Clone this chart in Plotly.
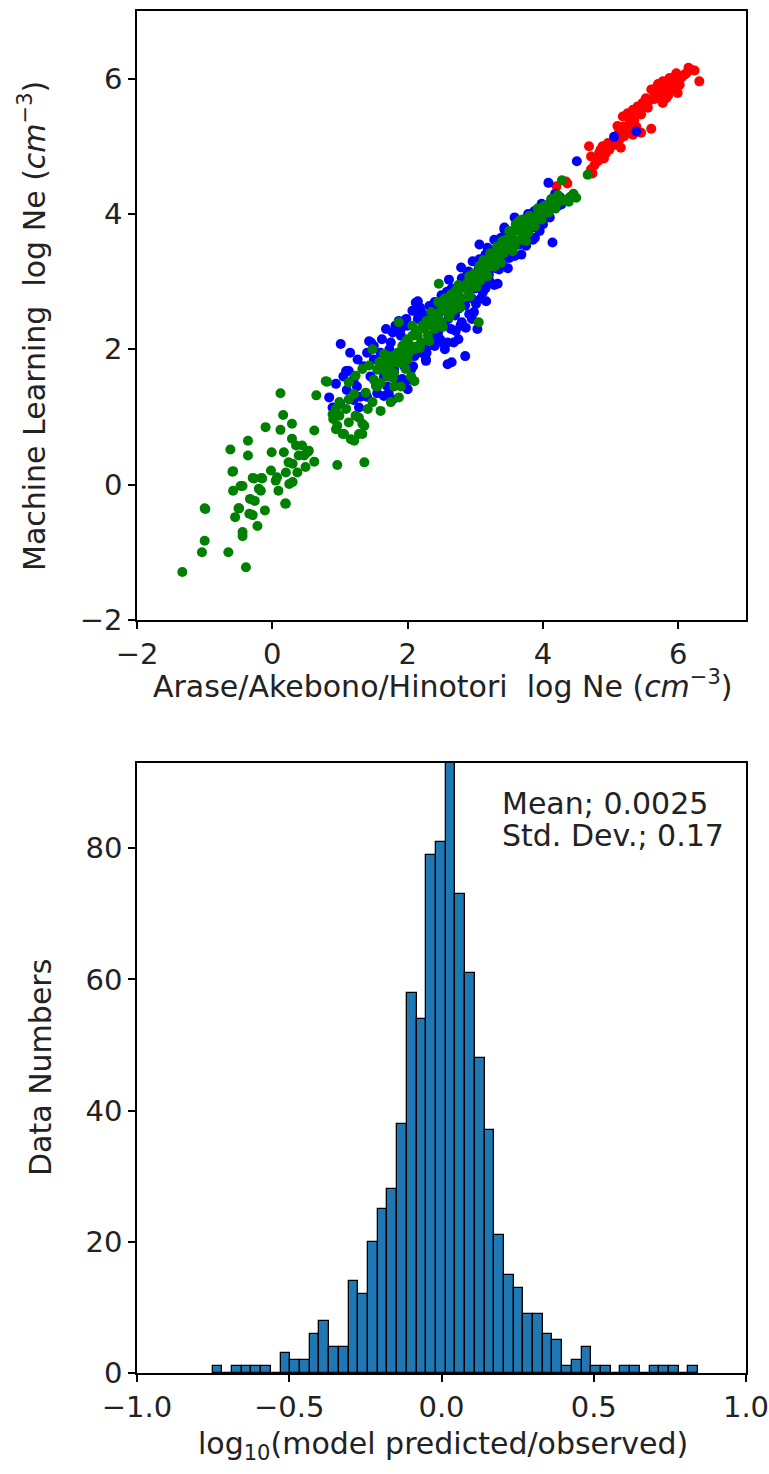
import numpy as np
import plotly.graph_objects as go

# ---------------- scatter data (log Ne, cm^-3) ----------------
red_x = [4.20, 4.34, 4.36, 4.71, 4.71, 4.68, 4.81, 4.83, 4.88, 4.93, 4.96, 4.98, 5.13, 5.15, 5.18, 5.20,
         5.23, 5.33, 5.28, 5.35, 5.38, 5.18, 5.25, 5.33, 5.45, 5.40, 5.47, 5.55, 5.52, 5.45, 5.60, 5.72,
         5.60, 5.67, 5.77, 5.87, 5.97, 6.09, 6.19, 6.31, 6.02, 5.92, 5.99, 5.82, 5.77, 5.82, 5.64, 5.70,
         5.80, 5.90, 6.05, 6.12, 5.95, 5.75, 5.85, 5.30, 5.42, 5.50, 5.58, 5.27, 5.12, 5.05, 4.90, 4.76,
         4.73, 6.24, 6.15, 5.10, 4.85, 5.65, 5.95, 6.00]
red_y = [4.41, 4.48, 4.45, 4.66, 4.85, 5.00, 4.78, 4.90, 5.00, 4.90, 5.05, 4.95, 5.10, 4.98, 5.29, 5.15,
         5.22, 5.17, 5.35, 5.39, 5.29, 5.44, 5.49, 5.54, 5.47, 5.59, 5.64, 5.57, 5.71, 5.20, 5.26, 5.74,
         5.84, 5.86, 5.96, 6.01, 6.08, 6.06, 6.13, 5.96, 5.91, 5.84, 5.79, 5.79, 5.64, 5.71, 5.80, 5.92,
         5.88, 5.95, 6.02, 6.08, 6.03, 5.85, 5.75, 5.45, 5.52, 5.62, 5.68, 5.28, 5.20, 5.02, 4.82, 4.72,
         4.60, 6.12, 6.16, 5.30, 4.95, 5.70, 5.90, 5.97]

blue_x = [0.84, 0.89, 0.94, 1.01, 1.09, 1.13, 1.26, 1.28, 1.43, 1.46, 1.53, 1.65, 1.78, 1.78, 1.92, 2.00,
          2.12, 2.10, 2.27, 2.51, 2.59, 1.68, 1.87, 2.07, 2.15, 2.32, 2.61, 2.79, 2.96, 3.06, 3.28, 3.43,
          3.43, 3.87, 4.12, 4.27, 4.00, 3.85, 3.75, 3.58, 3.35, 3.21, 3.11, 3.16, 3.01, 2.91, 2.64, 2.59,
          2.37, 2.27, 1.73, 4.14, 3.06, 3.33, 2.86, 3.03, 2.85, 2.65, 2.71, 4.08, 4.50, 5.05, 5.38,
          1.00, 1.10, 1.20, 1.30, 1.35, 1.45, 1.50, 1.55, 1.60, 1.65, 1.70, 1.75, 1.80, 1.85, 1.90, 1.95,
          2.00, 2.05, 2.10, 2.15, 2.20, 2.25, 2.30, 2.35, 2.40, 2.45, 2.50, 2.55, 2.60, 2.65, 2.70, 2.75,
          2.80, 2.85, 2.90, 2.95, 3.00, 3.05, 3.10, 3.15, 3.20, 3.25, 3.30, 3.35, 3.40, 3.45, 3.50, 3.55,
          3.60, 3.65, 3.70, 3.75, 3.80, 3.85, 3.90, 3.95, 4.05, 4.10, 4.20, 4.25, 4.35,
          1.20, 1.40, 1.90, 2.20, 2.45, 2.55, 2.75, 2.95, 3.15, 1.95, 2.05, 2.40, 2.80, 3.50, 3.95,
          1.05, 1.15, 1.25, 1.40, 1.50, 1.62, 1.72, 1.82, 1.98, 2.08, 2.18, 2.28, 2.38, 2.48, 2.58, 2.68,
          2.78, 2.88, 2.98, 3.08, 3.18, 3.28, 3.38, 3.48, 3.58, 3.68, 3.78, 3.88, 3.98, 4.18]
blue_y = [1.29, 1.14, 1.49, 2.08, 1.68, 1.68, 1.85, 1.14, 2.12, 2.10, 1.49, 1.31, 2.25, 1.26, 1.56, 1.41,
          2.69, 2.57, 1.83, 2.10, 1.78, 2.30, 2.42, 2.57, 2.71, 2.64, 3.03, 3.21, 3.30, 3.33, 3.62, 3.77,
          3.80, 4.04, 4.19, 4.14, 3.85, 3.62, 3.53, 3.38, 3.18, 3.01, 2.84, 2.71, 2.67, 2.52, 2.30, 2.10,
          2.10, 1.85, 2.00, 3.58, 3.55, 2.97, 2.32, 2.30, 1.90, 1.81, 2.27, 4.46, 4.78, 5.14, 5.22,
          1.20, 1.40, 1.55, 1.30, 1.75, 1.60, 1.85, 1.35, 1.95, 1.60, 1.45, 2.10, 1.70, 1.55, 2.20, 1.75,
          2.35, 1.70, 1.90, 2.45, 1.95, 2.50, 2.05, 2.20, 2.70, 2.25, 2.80, 2.35, 2.45, 2.90, 2.50, 2.60,
          3.05, 2.65, 3.15, 2.75, 2.90, 3.20, 3.00, 3.40, 3.10, 3.45, 3.20, 3.55, 3.30, 3.45, 3.70, 3.50,
          3.85, 3.55, 3.90, 3.70, 3.95, 3.80, 4.05, 3.90, 4.05, 3.95, 4.10, 4.25, 4.20,
          1.25, 1.95, 2.30, 2.55, 2.60, 2.00, 2.15, 2.45, 2.90, 1.50, 1.55, 2.05, 2.40, 3.35, 3.75,
          1.60, 1.95, 1.45, 1.30, 2.05, 2.15, 1.35, 2.35, 2.45, 1.75, 2.62, 1.95, 2.55, 2.15, 2.85, 2.10,
          2.35, 3.10, 2.55, 2.75, 3.50, 2.95, 3.65, 3.20, 3.95, 3.40, 4.00, 3.65, 4.15, 4.30]

green_x = [-1.33, -0.39, -1.04, -1.00, -0.65, -1.00, -0.44, -0.44, -0.22, -0.55, -0.49, -0.29, -0.11, 0.20,
           -0.58, -0.44, -0.33, -0.26, -0.17, -0.29, -0.16, -0.58, -0.62, -0.36, -0.36, -0.10, -0.01, -0.02,
           0.05, 0.09, 0.12, 0.12, 0.16, 0.29, 0.29, 0.17, 0.24, 0.35, 0.20, 0.30, 0.44, 0.47, 0.54, 0.62,
           0.49, 0.37, 0.62, 0.65, 0.96, 1.36, 0.52, 0.39, 0.30, 0.07, -0.27, -0.15, 0.25, -0.47, -0.20,
           -0.50, -0.34, 0.19, -0.99, -0.59,
           0.79, 0.81, 0.89, 0.90, 0.94, 0.94, 0.96, 1.04, 1.06, 1.16, 1.21, 1.28, 1.33, 1.36, 1.33, 1.28,
           1.23, 1.13, 0.99, 1.13, 1.38, 1.53, 1.68, 1.83, 1.97, 1.87, 2.07, 1.48, 1.65, 1.75, 1.87, 1.13,
           1.23, 1.33, 1.43, 1.58, 1.68, 1.97, 2.10, 0.99, 1.09, 1.48, 1.60, 1.41, 1.21,
           1.78, 1.92, 2.07, 2.22, 2.37, 2.51, 2.66, 2.81, 2.91, 3.06, 3.21, 3.35, 3.45, 3.60, 3.70, 3.80,
           4.04, 4.24, 4.34, 4.49, 2.46, 3.05, 4.28, 4.66,
           1.50, 1.55, 1.60, 1.65, 1.70, 1.75, 1.80, 1.85, 1.90, 1.95, 2.00, 2.05, 2.10, 2.15, 2.20, 2.25,
           2.30, 2.35, 2.40, 2.45, 2.50, 2.55, 2.60, 2.65, 2.70, 2.75, 2.80, 2.85, 2.90, 2.95, 3.00, 3.05,
           3.10, 3.15, 3.20, 3.25, 3.30, 3.35, 3.40, 3.45, 3.50, 3.55, 3.60, 3.65, 3.70, 3.75, 3.80, 3.85,
           3.90, 3.95, 4.00, 4.10, 4.15, 4.20, 4.30, 4.40, 3.55, 3.65, 3.50, 1.90, 2.05, 1.80,
           2.64, 2.35, 2.55, 2.75, 2.45, 2.70, 3.40, 3.60, 3.75, 3.30, 2.15, 2.00, 1.70,
           1.55, 1.62, 1.72, 1.78, 1.88, 1.98, 2.02, 2.12, 2.18, 2.28, 2.32, 2.42, 2.48, 2.52, 2.58, 2.62,
           2.68, 2.72, 2.78, 2.88, 2.92, 2.98, 3.02, 3.08, 3.12, 3.18, 3.22, 3.28, 3.32, 3.38, 3.42, 3.48,
           3.52, 3.58, 3.62, 3.68, 3.72, 3.78, 3.82, 3.88, 3.92, 3.98, 4.02, 4.08, 4.12, 4.18, 4.22, 4.38,
           4.45]
green_y = [-1.29, -1.22, -1.00, -0.83, -1.00, -0.35, -0.70, -0.76, -0.61, -0.48, -0.35, -0.45, -0.38, -0.28,
           -0.09, -0.02, -0.21, -0.24, -0.09, 0.10, 0.10, 0.20, 0.52, 0.65, 0.43, 0.85, 0.48, 0.21,
           0.06, -0.09, 1.35, 0.81, 1.03, 0.90, 0.68, 0.48, 0.33, 0.58, 0.18, 0.04, 0.58, 0.43, 0.50, 0.34,
           0.26, 0.18, 0.80, 1.32, 0.29, 0.33, 0.48, 0.43, 0.31, 0.11, 0.09, 0.09, 0.01, -0.02, -0.06,
           -0.35, -0.43, -0.28, -0.36, 0.19,
           1.53, 1.52, 1.04, 0.97, 1.12, 0.82, 0.87, 0.75, 0.75, 0.67, 0.65, 0.75, 0.75, 0.87, 0.90, 0.99,
           1.02, 0.92, 1.22, 1.26, 1.36, 1.46, 1.66, 1.81, 1.90, 2.40, 2.35, 2.00, 1.93, 1.22, 1.29, 1.51,
           1.61, 1.71, 1.76, 1.81, 1.85, 1.71, 1.53, 1.02, 1.12, 1.22, 1.09, 1.12, 1.34,
           1.90, 2.05, 2.20, 2.35, 2.49, 2.64, 2.79, 2.93, 3.08, 3.23, 3.33, 3.48, 3.62, 3.77, 3.92, 3.97,
           4.09, 4.19, 4.21, 4.24, 2.97, 2.40, 4.50, 4.58,
           1.55, 1.70, 1.50, 1.75, 1.60, 1.80, 1.65, 1.95, 1.80, 2.00, 1.85, 2.05, 2.00, 2.20, 2.10, 2.30,
           2.20, 2.35, 2.30, 2.50, 2.40, 2.60, 2.55, 2.65, 2.70, 2.80, 2.75, 2.90, 2.85, 3.00, 3.05, 3.10,
           3.20, 3.15, 3.25, 3.35, 3.40, 3.35, 3.50, 3.55, 3.55, 3.65, 3.60, 3.75, 3.70, 3.85, 3.80, 3.90,
           3.95, 4.00, 4.00, 4.10, 4.15, 4.15, 4.20, 4.25, 3.45, 3.90, 3.75, 1.45, 1.60, 1.45,
           2.81, 2.55, 2.75, 2.95, 2.70, 2.85, 3.60, 3.85, 3.60, 3.25, 2.05, 2.15, 1.90,
           1.45, 1.78, 1.72, 1.58, 1.88, 2.12, 1.95, 2.28, 2.02, 2.42, 2.12, 2.38, 2.55, 2.33, 2.72, 2.48,
           2.58, 2.88, 2.62, 2.98, 2.78, 3.12, 2.92, 3.02, 3.32, 3.08, 3.42, 3.22, 3.52, 3.28, 3.42, 3.62,
           3.48, 3.52, 3.82, 3.62, 3.78, 3.72, 3.88, 3.82, 4.08, 3.92, 4.12, 4.02, 4.22, 4.08, 4.28, 4.18,
           4.30]

# ---------------- histogram data ----------------
hist_min = -0.752
hist_max = 0.843
hist_counts = [1, 0, 1, 1, 1, 1, 0, 3, 2, 2, 6, 8, 4, 4, 14, 12, 20, 25, 28, 38, 58, 54, 79, 81,
               97, 73, 61, 48, 37, 21, 15, 13, 9, 9, 6, 5, 1, 2, 4, 1, 1, 0, 1, 1, 0, 1, 1, 1, 0, 1]

mean_text = "Mean; 0.0025"
std_text = "Std. Dev.; 0.17"

scatter_ticks = [-2, 0, 2, 4, 6]
scatter_ticktext = ["\u22122", "0", "2", "4", "6"]
hist_xticks = [-1.0, -0.5, 0.0, 0.5, 1.0]
hist_xticktext = ["\u22121.0", "\u22120.5", "0.0", "0.5", "1.0"]
hist_yticks = [0, 20, 40, 60, 80]

# ---------------- figure ----------------
W, H = 769, 1474
FONT = "DejaVu Sans"
FS = 30
TFS = 29
TXT = "#222222"
NB = "\u00a0"

edges = np.linspace(hist_min, hist_max, len(hist_counts) + 1)
centers = (edges[:-1] + edges[1:]) / 2
bw = edges[1] - edges[0]

def px_x(p):
    return p / W

def px_y(p):
    return 1 - p / H

fig = go.Figure()
for xs, ys, col in [(red_x, red_y, "#ff0000"), (blue_x, blue_y, "#0000ff"), (green_x, green_y, "#008000")]:
    fig.add_trace(go.Scatter(x=xs, y=ys, mode="markers", xaxis="x", yaxis="y",
                             marker=dict(color=col, size=10, line=dict(width=0)), showlegend=False))

fig.add_trace(go.Bar(x=centers, y=hist_counts, width=bw, xaxis="x2", yaxis="y2",
                     marker=dict(color="#1f77b4", line=dict(color="#000000", width=1.3)),
                     showlegend=False))

axis_common = dict(showline=True, linecolor="black", linewidth=1.6, mirror=True,
                   ticks="outside", ticklen=7, tickwidth=1.5, tickcolor="black",
                   showgrid=False, zeroline=False, automargin=False, ticklabeloverflow="allow",
                   tickfont=dict(family=FONT, size=TFS, color=TXT))

xd = [137 / W, 746 / W]
fig.update_layout(
    template="none",
    width=W, height=H, margin=dict(l=0, r=0, t=0, b=0, pad=0),
    plot_bgcolor="white", paper_bgcolor="white", bargap=0,
    xaxis=dict(domain=xd, range=[-2, 7], tickvals=scatter_ticks, ticktext=scatter_ticktext,
               anchor="y", **axis_common),
    yaxis=dict(domain=[px_y(620), px_y(11)], range=[-2, 7], tickvals=scatter_ticks,
               ticktext=scatter_ticktext, anchor="x", **axis_common),
    xaxis2=dict(domain=xd, range=[-1, 1], tickvals=hist_xticks, ticktext=hist_xticktext,
                anchor="y2", **axis_common),
    yaxis2=dict(domain=[px_y(1373), px_y(763)], range=[0, 93], tickvals=hist_yticks,
                anchor="x2", **axis_common),
)

ann_font = dict(family=FONT, size=FS, color=TXT)
anns = [
    dict(text="Machine Learning" + NB + NB + "log Ne (<i>cm</i><sup>\u22123</sup>)", x=px_x(32), y=px_y(326),
         textangle=-90),
    dict(text="Arase/Akebono/Hinotori" + NB + NB + "log Ne (<i>cm</i><sup>\u22123</sup>)", x=px_x(443),
         y=px_y(685)),
    dict(text="Data Numbers", x=px_x(40), y=px_y(1068), textangle=-90),
    dict(text="log<sub>10</sub>(model predicted/observed)", x=px_x(443), y=px_y(1445)),
]
for a in anns:
    fig.add_annotation(xref="paper", yref="paper", showarrow=False, xanchor="center",
                       yanchor="middle", font=ann_font, **a)
fig.add_annotation(xref="paper", yref="paper", showarrow=False, xanchor="left", yanchor="middle",
                   x=px_x(500), y=px_y(803), text=mean_text, font=ann_font)
fig.add_annotation(xref="paper", yref="paper", showarrow=False, xanchor="left", yanchor="middle",
                   x=px_x(500), y=px_y(835), text=std_text, font=ann_font)

fig.write_html("out.html", config={"displayModeBar": False},
               post_script="document.body.style.margin='0';")
